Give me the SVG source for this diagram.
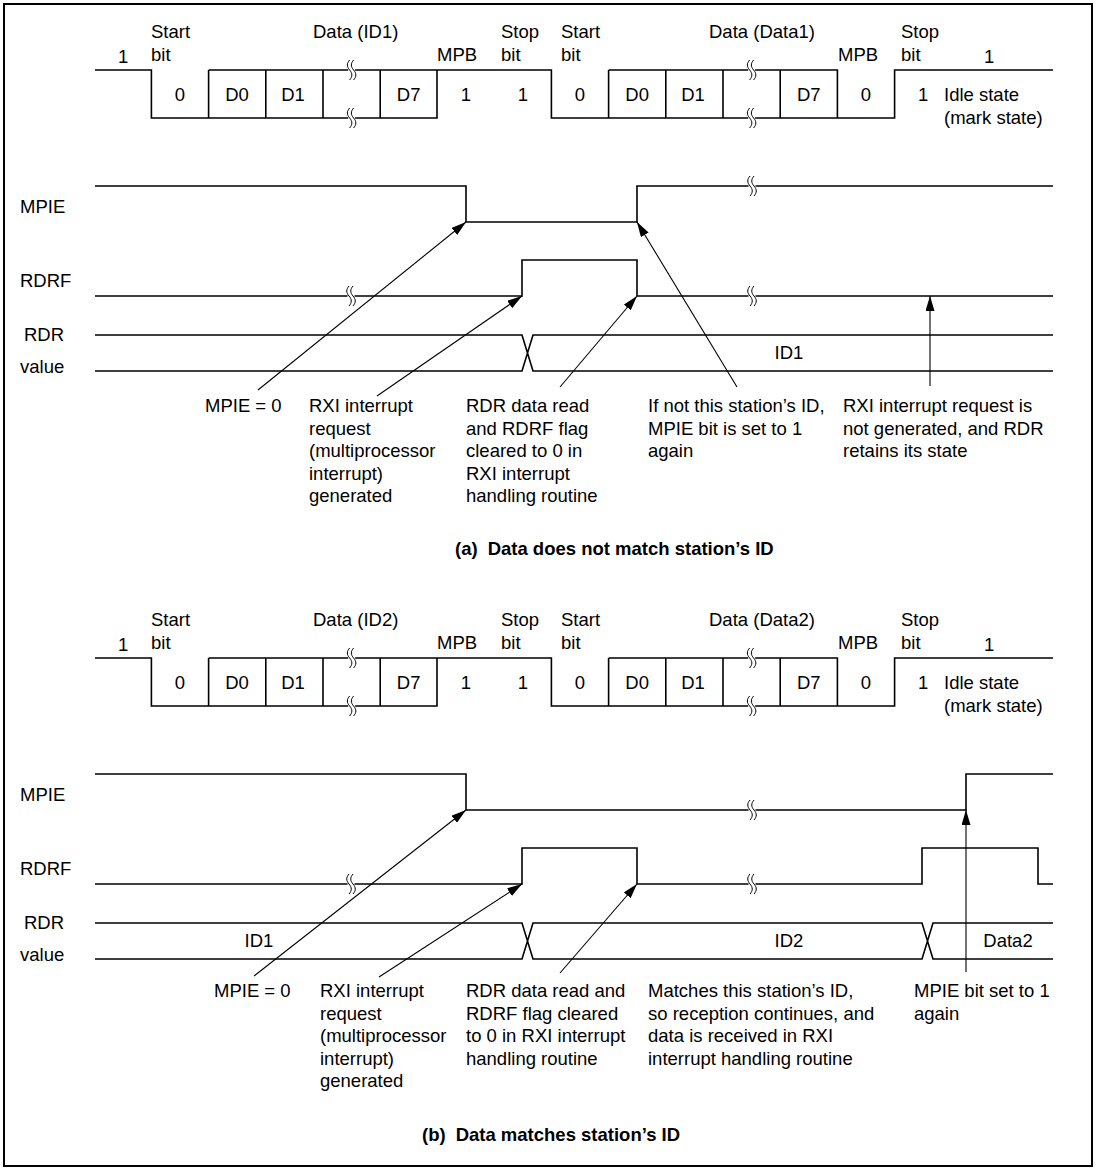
<svg xmlns="http://www.w3.org/2000/svg" xmlns:xlink="http://www.w3.org/1999/xlink" width="1098" height="1171" viewBox="0 0 1098 1171">
<style>
text{font-family:"Liberation Sans",Arial,sans-serif;font-size:18.5px;fill:#000}
.c{text-anchor:middle}
.b{font-weight:bold}
.w{fill:none;stroke:#000;stroke-width:1.6}
.a{fill:none;stroke:#000;stroke-width:1.1}
</style>
<defs>
<marker id="ah" markerUnits="userSpaceOnUse" viewBox="0 0 15 9" refX="15" refY="4.5" markerWidth="15" markerHeight="9" orient="auto">
<path d="M0,0 L15,4.5 L0,9 z" fill="#000"/>
</marker>
<g id="brk">
<rect x="-3.5" y="-9" width="7" height="18" fill="#fff"/>
<path d="M-2,-10 c-3,3.5 -3,6.5 0,10 c3,3.5 3,6.5 0,10 M2,-10 c-3,3.5 -3,6.5 0,10 c3,3.5 3,6.5 0,10" fill="none" stroke="#000" stroke-width="1"/>
</g>
</defs>
<rect x="4" y="4" width="1088" height="1162" fill="#fff" stroke="#000" stroke-width="2"/>

<!-- ===== (a) ===== -->
<g id="frame-a">
<path class="w" d="M95,70 H151.4 V118 H437 V70 H551.4 V118 H894.6 V70 H1053 M208.6,70 H437 M208.6,70 V118 M265.8,70 V118 M323,70 V118 M380.2,70 V118 M608.6,70 H837.4 V118 M608.6,70 V118 M665.8,70 V118 M723,70 V118 M780.2,70 V118"/>
<use xlink:href="#brk" x="351.6" y="70"/>
<use xlink:href="#brk" x="351.6" y="118"/>
<use xlink:href="#brk" x="751.6" y="70"/>
<use xlink:href="#brk" x="751.6" y="118"/>
<text x="118" y="63">1</text>
<text x="151" y="38">Start</text><text x="151" y="61">bit</text>
<text x="313" y="38">Data (ID1)</text>
<text x="437" y="61">MPB</text>
<text x="501" y="38">Stop</text><text x="501" y="61">bit</text>
<text x="561" y="38">Start</text><text x="561" y="61">bit</text>
<text x="709" y="38">Data (Data1)</text>
<text x="838" y="61">MPB</text>
<text x="901" y="38">Stop</text><text x="901" y="61">bit</text>
<text x="984" y="63">1</text>
<text class="c" x="179.8" y="101">0</text>
<text class="c" x="237" y="101">D0</text>
<text class="c" x="293" y="101">D1</text>
<text class="c" x="408.6" y="101">D7</text>
<text class="c" x="465.8" y="101">1</text>
<text class="c" x="523" y="101">1</text>
<text class="c" x="580" y="101">0</text>
<text class="c" x="637.2" y="101">D0</text>
<text class="c" x="693" y="101">D1</text>
<text class="c" x="808.8" y="101">D7</text>
<text class="c" x="866" y="101">0</text>
<text class="c" x="923.2" y="101">1</text>
<text x="944" y="101">Idle state</text>
<text x="944" y="124">(mark state)</text>
</g>

<g id="signals-a">
<text x="20" y="213">MPIE</text>
<text x="20" y="287">RDRF</text>
<text x="24" y="341">RDR</text>
<text x="20" y="373">value</text>
<path class="w" d="M95,186 H466 V222 H637 V186 H1053"/>
<use xlink:href="#brk" x="752" y="186"/>
<path class="w" d="M95,296 H522 V260 H637 V296 H1053"/>
<use xlink:href="#brk" x="351" y="296"/>
<use xlink:href="#brk" x="752" y="296"/>
<path class="w" d="M95,335 H522 L533,371 H1053 M95,371 H522 L533,335 H1053"/>
<text class="c" x="789" y="359">ID1</text>
</g>

<g id="connectors-a">
<line class="a" x1="258" y1="390" x2="466" y2="222" marker-end="url(#ah)"/>
<line class="a" x1="377" y1="396" x2="522" y2="296" marker-end="url(#ah)"/>
<line class="a" x1="560" y1="387" x2="637" y2="296" marker-end="url(#ah)"/>
<line class="a" x1="737" y1="387" x2="637" y2="222" marker-end="url(#ah)"/>
<line class="a" x1="930" y1="386" x2="930" y2="296" marker-end="url(#ah)"/>
</g>

<g id="labels-a">
<text x="205" y="412">MPIE = 0</text>
<text x="309" y="412">RXI interrupt</text>
<text x="309" y="434.6">request</text>
<text x="309" y="457.2">(multiprocessor</text>
<text x="309" y="479.8">interrupt)</text>
<text x="309" y="502.4">generated</text>
<text x="466" y="412">RDR data read</text>
<text x="466" y="434.6">and RDRF flag</text>
<text x="466" y="457.2">cleared to 0 in</text>
<text x="466" y="479.8">RXI interrupt</text>
<text x="466" y="502.4">handling routine</text>
<text x="648" y="412">If not this station’s ID,</text>
<text x="648" y="434.6">MPIE bit is set to 1</text>
<text x="648" y="457.2">again</text>
<text x="843" y="412">RXI interrupt request is</text>
<text x="843" y="434.6">not generated, and RDR</text>
<text x="843" y="457.2">retains its state</text>
<text class="b" x="455" y="555">(a)<tspan dx="10">Data does not match station’s ID</tspan></text>
</g>

<!-- ===== (b) ===== -->
<g id="frame-b">
<path class="w" d="M95,658 H151.4 V706 H437 V658 H551.4 V706 H894.6 V658 H1053 M208.6,658 H437 M208.6,658 V706 M265.8,658 V706 M323,658 V706 M380.2,658 V706 M608.6,658 H837.4 V706 M608.6,658 V706 M665.8,658 V706 M723,658 V706 M780.2,658 V706"/>
<use xlink:href="#brk" x="351.6" y="658"/>
<use xlink:href="#brk" x="351.6" y="706"/>
<use xlink:href="#brk" x="751.6" y="658"/>
<use xlink:href="#brk" x="751.6" y="706"/>
<text x="118" y="651">1</text>
<text x="151" y="626">Start</text><text x="151" y="649">bit</text>
<text x="313" y="626">Data (ID2)</text>
<text x="437" y="649">MPB</text>
<text x="501" y="626">Stop</text><text x="501" y="649">bit</text>
<text x="561" y="626">Start</text><text x="561" y="649">bit</text>
<text x="709" y="626">Data (Data2)</text>
<text x="838" y="649">MPB</text>
<text x="901" y="626">Stop</text><text x="901" y="649">bit</text>
<text x="984" y="651">1</text>
<text class="c" x="179.8" y="689">0</text>
<text class="c" x="237" y="689">D0</text>
<text class="c" x="293" y="689">D1</text>
<text class="c" x="408.6" y="689">D7</text>
<text class="c" x="465.8" y="689">1</text>
<text class="c" x="523" y="689">1</text>
<text class="c" x="580" y="689">0</text>
<text class="c" x="637.2" y="689">D0</text>
<text class="c" x="693" y="689">D1</text>
<text class="c" x="808.8" y="689">D7</text>
<text class="c" x="866" y="689">0</text>
<text class="c" x="923.2" y="689">1</text>
<text x="944" y="689">Idle state</text>
<text x="944" y="712">(mark state)</text>
</g>

<g id="signals-b">
<text x="20" y="801">MPIE</text>
<text x="20" y="875">RDRF</text>
<text x="24" y="929">RDR</text>
<text x="20" y="961">value</text>
<path class="w" d="M95,774 H466 V810 H966 V774 H1053"/>
<use xlink:href="#brk" x="752" y="810"/>
<path class="w" d="M95,884 H522 V848 H637 V884 H922 V848 H1038 V884 H1053"/>
<use xlink:href="#brk" x="351" y="884"/>
<use xlink:href="#brk" x="752" y="884"/>
<path class="w" d="M95,923 H522 L533,959 H922 L933,923 H1053 M95,959 H522 L533,923 H922 L933,959 H1053"/>
<text class="c" x="259" y="947">ID1</text>
<text class="c" x="789" y="947">ID2</text>
<text class="c" x="1008" y="947">Data2</text>
</g>

<g id="connectors-b">
<line class="a" x1="254" y1="976" x2="466" y2="810" marker-end="url(#ah)"/>
<line class="a" x1="379" y1="977" x2="522" y2="884" marker-end="url(#ah)"/>
<line class="a" x1="560" y1="973" x2="637" y2="884" marker-end="url(#ah)"/>
<line class="a" x1="966" y1="972" x2="966" y2="810" marker-end="url(#ah)"/>
</g>

<g id="labels-b">
<text x="214" y="997">MPIE = 0</text>
<text x="320" y="997">RXI interrupt</text>
<text x="320" y="1019.6">request</text>
<text x="320" y="1042.2">(multiprocessor</text>
<text x="320" y="1064.8">interrupt)</text>
<text x="320" y="1087.4">generated</text>
<text x="466" y="997">RDR data read and</text>
<text x="466" y="1019.6">RDRF flag cleared</text>
<text x="466" y="1042.2">to 0 in RXI interrupt</text>
<text x="466" y="1064.8">handling routine</text>
<text x="648" y="997">Matches this station’s ID,</text>
<text x="648" y="1019.6">so reception continues, and</text>
<text x="648" y="1042.2">data is received in RXI</text>
<text x="648" y="1064.8">interrupt handling routine</text>
<text x="914" y="997">MPIE bit set to 1</text>
<text x="914" y="1019.6">again</text>
<text class="b" x="422" y="1141">(b)<tspan dx="10">Data matches station’s ID</tspan></text>
</g>
</svg>
